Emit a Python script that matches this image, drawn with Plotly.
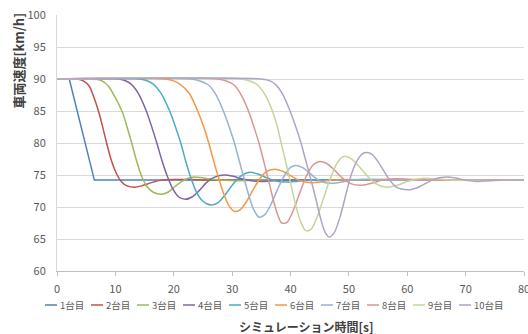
import plotly.graph_objects as go

# ---------------- data ----------------
names = ["1台目", "2台目", "3台目", "4台目", "5台目", "6台目", "7台目", "8台目", "9台目", "10台目"]
colors = ["#4F81BD", "#C0504D", "#9BBB59", "#8064A2", "#4BACC6",
          "#F79646", "#95B3D7", "#D99694", "#C3D69B", "#B3A2C7"]

t1 = [0, 2.1, 6.4, 80]
v1 = [90, 90, 74.2, 74.2]

t2 = [0, 3.5, 4.5, 5.5, 6.3, 7.1, 7.8, 8.5, 9.3, 10.2, 11.0, 12.0, 13.3, 14.5, 15.5, 16.8, 18.0, 20, 23, 26, 80]
v2 = [90, 90, 89.7, 88.9, 87.2, 85.0, 82.6, 80.0, 77.3, 75.2, 74.0, 73.3, 73.1, 73.3, 73.6, 74.0, 74.2, 74.3, 74.3, 74.2, 74.2]

t3 = [0, 6.5, 7.7, 8.8, 9.8, 11.2, 12.0, 12.8, 13.6, 14.5, 15.4, 16.5, 17.9, 19.0, 20.2, 21.4, 22.5, 23.5, 24.7, 26, 28, 31, 34, 80]
v3 = [90, 90, 89.7, 88.9, 87.4, 84.8, 82.5, 80.0, 77.3, 74.8, 73.2, 72.3, 72.0, 72.3, 73.2, 74.0, 74.5, 74.7, 74.6, 74.4, 74.2, 74.1, 74.2, 74.2]

t4 = [0, 10.5, 11.5, 12.7, 13.9, 15.3, 16.2, 17.1, 18.0, 18.9, 19.8, 20.8, 22.0, 23.2, 24.4, 25.6, 26.8, 28.6, 30.2, 31.7, 33.3, 35, 37, 39, 80]
v4 = [90, 90, 89.8, 89.2, 87.8, 85.0, 82.6, 80.0, 77.2, 74.8, 72.9, 71.6, 71.2, 71.6, 72.6, 73.8, 74.6, 75.0, 74.8, 74.4, 74.1, 74.0, 74.1, 74.2, 74.2]

t5 = [0, 14, 15.2, 16.5, 17.8, 19.3, 20.3, 21.2, 22.1, 23.0, 23.9, 25.0, 26.4, 27.6, 28.8, 30.0, 31.3, 32.8, 34.3, 35.8, 37.3, 39.2, 41, 43, 80]
v5 = [90, 90, 89.8, 89.2, 87.8, 85.0, 82.5, 80.0, 77.0, 74.4, 72.3, 70.9, 70.3, 70.7, 71.9, 73.4, 74.7, 75.4, 75.2, 74.6, 74.1, 73.9, 74.0, 74.2, 74.2]

t6 = [0, 18.5, 20.0, 21.2, 22.7, 24.1, 25.1, 26.0, 26.8, 27.6, 28.5, 29.4, 30.4, 31.4, 32.5, 33.6, 34.8, 36.0, 37.3, 38.6, 40.0, 41.4, 42.6, 43.8, 45.5, 47.5, 80]
v6 = [90, 90, 89.7, 89.1, 87.7, 85.0, 82.6, 80.0, 77.3, 74.8, 72.2, 70.3, 69.3, 69.6, 70.9, 72.7, 74.5, 75.6, 75.9, 75.6, 74.9, 74.2, 73.9, 73.8, 74.0, 74.2, 74.2]

t7 = [0, 23, 24.5, 25.9, 27.2, 28.5, 29.5, 30.4, 31.2, 32.0, 32.8, 33.7, 34.6, 35.6, 36.7, 37.8, 39.0, 40.0, 40.9, 42.0, 43.3, 44.6, 46.0, 47.3, 48.8, 50.5, 53, 56, 80]
v7 = [90, 90, 89.7, 89.1, 87.6, 85.0, 82.5, 80.0, 77.3, 74.6, 72.0, 69.6, 68.4, 68.8, 70.5, 72.8, 75.0, 76.2, 76.5, 76.2, 75.3, 74.3, 73.8, 73.7, 73.9, 74.2, 74.3, 74.2, 74.2]

t8 = [0, 27.5, 29.0, 30.3, 31.5, 32.8, 33.7, 34.6, 35.4, 36.2, 37.0, 37.8, 38.5, 39.4, 40.4, 41.5, 42.7, 43.9, 45.0, 46.2, 47.5, 48.8, 50.2, 52.0, 53.8, 55.8, 58, 60.5, 63, 80]
v8 = [90, 90, 89.7, 89.1, 87.6, 85.0, 82.6, 80.0, 77.2, 74.3, 71.3, 68.8, 67.5, 67.6, 69.3, 72.0, 74.8, 76.6, 77.1, 76.8, 75.8, 74.6, 73.7, 73.4, 73.7, 74.2, 74.4, 74.3, 74.2, 74.2]

t9 = [0, 31.5, 33.0, 34.3, 35.6, 36.9, 37.7, 38.4, 39.2, 40.0, 40.8, 41.7, 42.6, 43.5, 44.5, 45.6, 46.8, 48.0, 49.1, 50.3, 51.6, 53.0, 54.5, 56.4, 58.3, 60.4, 62.8, 65, 67, 80]
v9 = [90, 90, 89.7, 89.1, 87.6, 85.0, 82.7, 80.0, 77.0, 73.8, 70.6, 67.8, 66.3, 66.5, 68.3, 71.2, 74.4, 76.9, 77.9, 77.6, 76.5, 75.0, 73.7, 73.1, 73.4, 74.1, 74.5, 74.4, 74.2, 74.2]

t10 = [0, 35, 36.5, 37.6, 38.6, 39.7, 40.8, 41.8, 42.6, 43.4, 44.3, 45.1, 45.9, 46.6, 47.5, 48.5, 49.5, 50.5, 51.5, 52.3, 53.1, 54.0, 55.0, 56.0, 57.0, 58.0, 59.0, 60.5, 61.7, 63.2, 64.8, 66.8, 68.5, 70, 72, 74, 76, 80]
v10 = [90, 90, 89.7, 89.0, 87.7, 85.5, 82.8, 80.0, 77.3, 74.6, 71.4, 68.4, 66.1, 65.3, 66.0, 68.5, 72.0, 75.3, 77.4, 78.3, 78.5, 78.2, 77.1, 75.6, 74.2, 73.2, 72.8, 72.7, 73.0, 73.7, 74.4, 74.7, 74.5, 74.2, 74.0, 74.1, 74.2, 74.2]

times = [t1, t2, t3, t4, t5, t6, t7, t8, t9, t10]
speeds = [v1, v2, v3, v4, v5, v6, v7, v8, v9, v10]

x_title = "シミュレーション時間[s]"
y_title = "車両速度[km/h]"

# ---------------- figure ----------------
W, H = 528, 334
ML, MR, MT, MB = 57, 4, 15, 63
PW, PH = W - ML - MR, H - MT - MB
FONT = "Noto Sans CJK JP, Noto Sans, sans-serif"
TXT = "#595959"

fig = go.Figure()
for i in range(len(names)):
    fig.add_trace(go.Scatter(
        x=times[i], y=speeds[i], mode="lines", name=names[i],
        line=dict(color=colors[i], width=1.5,
                  shape="linear" if i == 0 else "spline", smoothing=0.8),
        showlegend=False))

def px_x(px):
    return (px - ML) / PW

def px_y(py):
    return (MT + PH - py) / PH

shapes = []
annotations = []
# custom horizontal legend
leg_x0, leg_step, leg_y = 45, 46, 305
for i, n in enumerate(names):
    x0 = leg_x0 + i * leg_step
    shapes.append(dict(type="line", xref="paper", yref="paper",
                       x0=px_x(x0), x1=px_x(x0 + 12), y0=px_y(leg_y), y1=px_y(leg_y),
                       line=dict(color=colors[i], width=1.5)))
    annotations.append(dict(text=n, xref="paper", yref="paper",
                            x=px_x(x0 + 13), y=px_y(leg_y), xanchor="left", yanchor="middle",
                            showarrow=False, font=dict(size=9.5, color=TXT, family=FONT)))

annotations.append(dict(text="<b>" + x_title + "</b>", xref="paper", yref="paper",
                        x=px_x(306), y=px_y(326), xanchor="center", yanchor="middle",
                        showarrow=False, font=dict(size=12, color="#404040", family=FONT)))
annotations.append(dict(text="<b>" + y_title + "</b>", xref="paper", yref="paper",
                        x=px_x(17.5), y=px_y(61), xanchor="center", yanchor="middle",
                        textangle=-90, showarrow=False,
                        font=dict(size=13, color="#404040", family=FONT)))

fig.update_layout(
    width=W, height=H,
    margin=dict(l=ML, r=MR, t=MT, b=MB),
    paper_bgcolor="white", plot_bgcolor="white",
    font=dict(family=FONT, color=TXT, size=11),
    shapes=shapes, annotations=annotations,
    showlegend=False,
)
fig.update_xaxes(range=[0, 80], dtick=10, tick0=0, showgrid=False, zeroline=False,
                 showline=True, linecolor="#BFBFBF", linewidth=1,
                 ticks="outside", ticklen=4, tickcolor="#BFBFBF",
                 ticklabeloverflow="allow", ticklabelstandoff=4,
                 tickfont=dict(size=11, color=TXT), automargin=False)
fig.update_yaxes(range=[60, 100], dtick=5, tick0=60, showgrid=True, gridcolor="#D9D9D9",
                 gridwidth=1, zeroline=False, showline=True, linecolor="#D9D9D9",
                 ticks="", ticklabelstandoff=8,
                 tickfont=dict(size=11, color=TXT), automargin=False)

fig.write_html("out.html")
